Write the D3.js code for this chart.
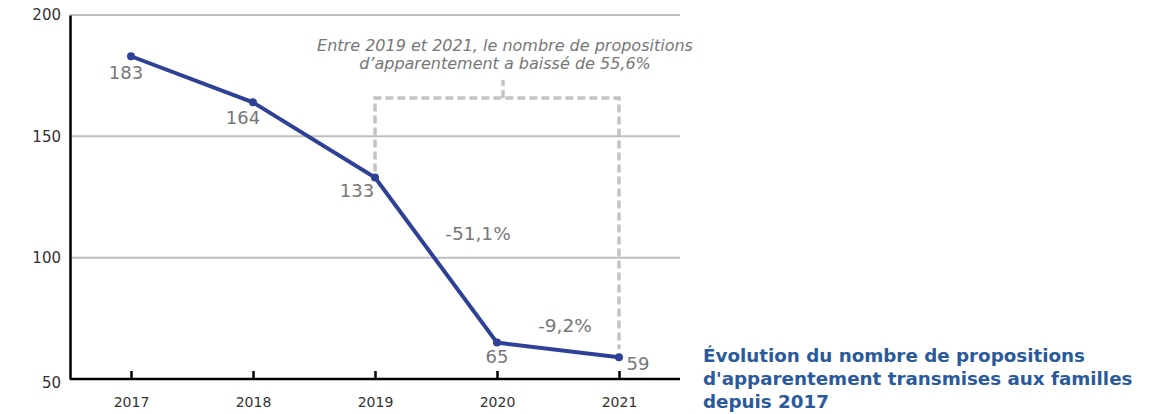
<!DOCTYPE html>
<html><head><meta charset="utf-8">
<script src="https://cdn.jsdelivr.net/npm/d3@7"></script>
<style>body{margin:0;background:#fff}svg{display:block}</style>
</head><body>
<script>
const years = ["2017","2018","2019","2020","2021"];
const values = [183,164,133,65,59];
const yTicks = [50,100,150,200];
const changeLabels = [{from:2,to:3,text:"-51,1%"},{from:3,to:4,text:"-9,2%"}];
const noteLines = ["Entre 2019 et 2021, le nombre de propositions","d\u2019apparentement a baiss\u00e9 de 55,6%"];
const titleLines = ["\u00c9volution du nombre de propositions","d'apparentement transmises aux familles","depuis 2017"];

const W=1176,H=414;
const svg=d3.select("body").append("svg").attr("width",W).attr("height",H);
const font="'DejaVu Sans', sans-serif";
const x=d3.scalePoint().domain(years).range([70,680]).padding(0.5);
const y=d3.scaleLinear().domain([50,200]).range([379,15]);

// gridlines
svg.append("g").selectAll("line").data(yTicks.filter(d=>d>50)).join("line")
 .attr("x1",70).attr("x2",680).attr("y1",d=>y(d)).attr("y2",d=>y(d))
 .attr("stroke","#bfbfbf").attr("stroke-width",2);

// y axis
const ya=svg.append("g").attr("transform","translate(70,0)").call(d3.axisLeft(y).tickValues(yTicks).tickSize(0).tickPadding(9));
ya.select(".domain").attr("stroke","#000").attr("stroke-width",2.5);
ya.selectAll("text").attr("font-family",font).attr("font-size",15).attr("fill","#333");
ya.selectAll("text").attr("dy",d=>d===50?"0.55em":"0.32em");

// x axis
const xa=svg.append("g").attr("transform","translate(0,379)").call(d3.axisBottom(x).tickSizeInner(-8).tickSizeOuter(0).tickPadding(18));
xa.select(".domain").attr("d","M70,0H680").attr("stroke","#000").attr("stroke-width",2.5);
xa.selectAll(".tick line").attr("stroke","#000").attr("stroke-width",2.5);
xa.selectAll("text").attr("font-family",font).attr("font-size",14).attr("fill","#333");

// bracket
const gy=98;
const bracket=svg.append("g").attr("fill","none").attr("stroke","#c3c3c3").attr("stroke-width",3.5).attr("stroke-dasharray","8,4");
bracket.append("path").attr("d",`M${x("2019")},${y(133)-6}V${gy}H${x("2021")}V${y(59)-8}`);
bracket.append("path").attr("d",`M${(x("2019")+x("2021"))/2+6},${gy}V80`);

// note
svg.append("g").selectAll("text").data(noteLines).join("text")
 .attr("x",505).attr("y",(d,i)=>51+i*18).attr("text-anchor","middle")
 .attr("font-family",font).attr("font-style","italic").attr("font-size",16).attr("fill","#777").text(d=>d);

// line
const pts=years.map((d,i)=>[x(d),y(values[i])]);
svg.append("path").attr("d",d3.line()(pts)).attr("fill","none").attr("stroke","#2e4197").attr("stroke-width",4);
svg.append("g").selectAll("circle").data(pts).join("circle").attr("cx",d=>d[0]).attr("cy",d=>d[1]).attr("r",4).attr("fill","#2e4197");

// value labels
const off=[[-5,23],[-10,22],[-18,19],[0,20],[19,13]];
svg.append("g").selectAll("text").data(values).join("text")
 .attr("x",(d,i)=>pts[i][0]+off[i][0]).attr("y",(d,i)=>pts[i][1]+off[i][1])
 .attr("text-anchor","middle").attr("font-family",font).attr("font-size",18).attr("fill","#777").text(d=>d);

// change labels
const cOff=[[42,-20],[7,-18]];
svg.append("g").selectAll("text").data(changeLabels).join("text")
 .attr("x",(d,i)=>(pts[d.from][0]+pts[d.to][0])/2+cOff[i][0])
 .attr("y",(d,i)=>(pts[d.from][1]+pts[d.to][1])/2+cOff[i][1])
 .attr("text-anchor","middle").attr("font-family",font).attr("font-size",18.5).attr("fill","#777").text(d=>d.text);

// title
svg.append("g").selectAll("text").data(titleLines).join("text")
 .attr("x",703).attr("y",(d,i)=>362+i*23)
 .attr("font-family",font).attr("font-weight","bold").attr("font-size",18.3).attr("fill","#2a5a9c").text(d=>d);
</script>
</body></html>
